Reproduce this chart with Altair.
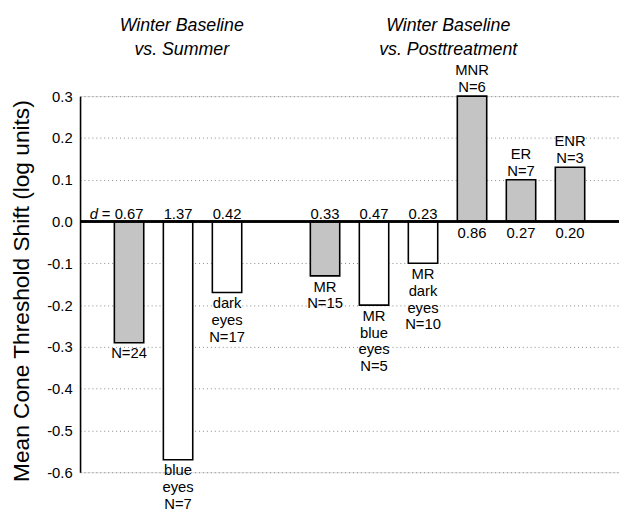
import altair as alt
import pandas as pd

# ---- data ----
ids = ["all", "blue", "dark", "MR", "MRblue", "MRdark", "MNR", "ER", "ENR"]
slot_order = ["all", "blue", "dark", "gap", "MR", "MRblue", "MRdark", "MNR", "ER", "ENR"]
values = [-0.29, -0.57, -0.17, -0.13, -0.20, -0.10, 0.30, 0.10, 0.13]
kinds = ["shaded", "open", "open", "shaded", "open", "open", "shaded", "shaded", "shaded"]
d_labels = ["0.67", "1.37", "0.42", "0.33", "0.47", "0.23", "0.86", "0.27", "0.20"]
group_labels = [
    "N=24",
    "blue\neyes\nN=7",
    "dark\neyes\nN=17",
    "MR\nN=15",
    "MR\nblue\neyes\nN=5",
    "MR\ndark\neyes\nN=10",
    "MNR\nN=6",
    "ER\nN=7",
    "ENR\nN=3",
]
titles = ["Winter Baseline\nvs. Summer", "Winter Baseline\nvs. Posttreatment"]
y_ticks = [-0.6, -0.5, -0.4, -0.3, -0.2, -0.1, 0.0, 0.1, 0.2, 0.3]

df = pd.DataFrame({"id": ids, "value": values, "kind": kinds,
                   "dlab": d_labels, "nlab": group_labels})

FONT = "Liberation Sans"

x_enc = alt.X("id:N", sort=slot_order,
              scale=alt.Scale(domain=slot_order, paddingInner=0.4, paddingOuter=0.7),
              axis=None)

base = alt.Chart(df)

bars = base.mark_bar(stroke="black", strokeWidth=1.6).encode(
    x=x_enc,
    y=alt.Y("value:Q",
            scale=alt.Scale(domain=[-0.6, 0.3], nice=False, zero=False),
            axis=alt.Axis(values=y_ticks,
                          labelExpr="replace(format(datum.value, '.1f'), '\u2212', '-')",
                          title="Mean Cone Threshold Shift (log units)",
                          titleFontSize=23, titleFont=FONT, titleFontWeight="normal",
                          titleColor="black", titlePadding=13, titleY=197,
                          labelFontSize=15, labelFont=FONT, labelColor="black",
                          labelPadding=8, ticks=False,
                          domainColor="black", domainWidth=1.6,
                          grid=True, gridColor="#888888", gridDash=[1, 3],
                          gridWidth=1)),
    y2=alt.datum(0),
    fill=alt.Fill("kind:N", scale=alt.Scale(domain=["shaded", "open"],
                                            range=["#c4c4c4", "#ffffff"]),
                  legend=None),
)

zero = base.mark_rule(color="black", strokeWidth=1.6).encode(y=alt.datum(0))

txt = dict(font=FONT, fontSize=15, color="black")

val_neg = base.transform_filter("datum.value < 0").mark_text(
    baseline="alphabetic", dy=-3, **txt).encode(x=x_enc, y=alt.datum(0), text="dlab:N")
val_pos = base.transform_filter("datum.value > 0").mark_text(
    baseline="alphabetic", dy=16.5, **txt).encode(x=x_enc, y=alt.datum(0), text="dlab:N")

d_eq = base.transform_filter("datum.id == 'all'").mark_text(
    baseline="alphabetic", dy=-3, align="right", dx=-18.8, text="=", **txt).encode(
    x=x_enc, y=alt.datum(0))
d_it = base.transform_filter("datum.id == 'all'").mark_text(
    baseline="alphabetic", dy=-3, align="right", dx=-31.5, text="d",
    fontStyle="italic", **txt).encode(x=x_enc, y=alt.datum(0))

grp_neg = base.transform_filter("datum.value < 0").mark_text(
    baseline="alphabetic", dy=16, lineBreak="\n", lineHeight=17, **txt).encode(
    x=x_enc, y="value:Q", text="nlab:N")
grp_pos = base.transform_filter("datum.value > 0").mark_text(
    baseline="alphabetic", dy=-21, lineBreak="\n", lineHeight=17, **txt).encode(
    x=x_enc, y="value:Q", text="nlab:N")

title_style = dict(font=FONT, fontSize=18, fontStyle="italic", color="black",
                   baseline="alphabetic", lineBreak="\n", lineHeight=24, align="center")
t1 = alt.Chart(pd.DataFrame({"t": [titles[0]]})).mark_text(**title_style).encode(
    text="t:N", x=alt.value(103), y=alt.value(-66))
t2 = alt.Chart(pd.DataFrame({"t": [titles[1]]})).mark_text(**title_style).encode(
    text="t:N", x=alt.value(373), y=alt.value(-66))

chart = alt.layer(bars, zero, val_neg, val_pos, d_eq, d_it, grp_neg, grp_pos, t1, t2).properties(
    width=546, height=381,
    autosize=alt.AutoSizeParams(type="none"),
    padding={"left": 73, "top": 86, "right": 0, "bottom": 39},
).configure_view(stroke=None).configure(background="white")

chart.save("out.html", embed_options={"renderer": "svg", "actions": False})
